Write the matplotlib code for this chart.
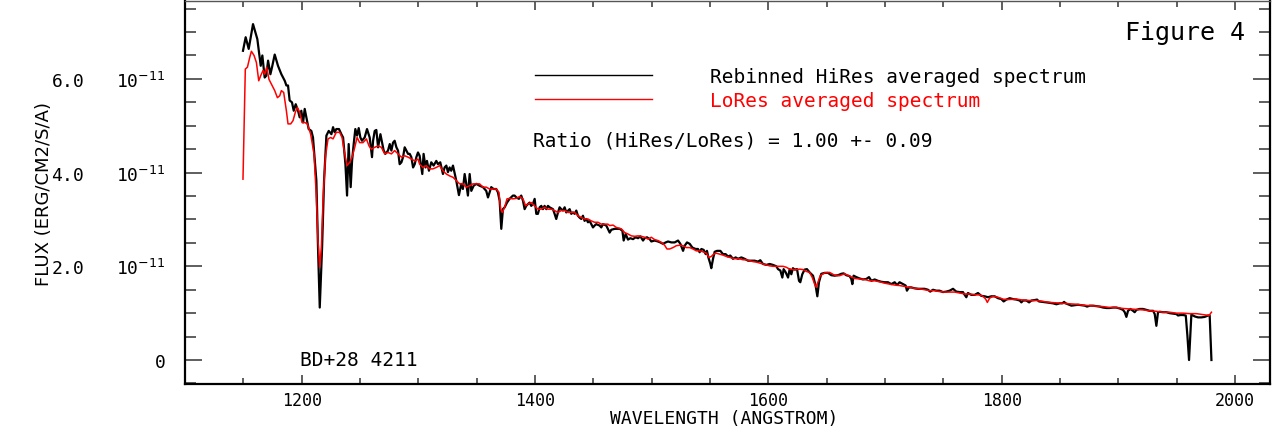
import numpy as np
import matplotlib
matplotlib.use("Agg")
import matplotlib.pyplot as plt
from matplotlib.ticker import MultipleLocator

# Rebinned HiRes averaged spectrum (wavelength in Angstrom, flux in 1e-11 erg/cm2/s/A)
hires_wave = [
    1149.7, 1152.0, 1154.6, 1158.3, 1162.0, 1164.9, 1166.3, 1168.3, 1169.7, 1171.2,
    1173.2, 1174.6, 1176.9, 1179.7, 1182.6, 1185.5, 1186.9, 1188.3, 1189.7, 1191.7,
    1193.2, 1194.9, 1196.9, 1198.3, 1199.7, 1201.2, 1202.6, 1204.6, 1206.0, 1208.3,
    1209.7, 1212.6, 1214.0, 1215.5, 1217.5, 1219.2, 1221.2, 1223.2, 1225.5, 1226.9,
    1228.3, 1229.7, 1232.0, 1234.0, 1235.5, 1237.5, 1238.9, 1240.3, 1242.0, 1243.2,
    1244.6, 1246.0, 1247.5, 1248.9, 1250.3, 1251.7, 1254.0, 1256.0, 1258.3, 1260.3,
    1261.2, 1262.6, 1264.0, 1265.5, 1267.5, 1268.9, 1270.3, 1271.7, 1274.0, 1275.5,
    1276.9, 1278.3, 1279.7, 1281.2, 1282.6, 1284.0, 1285.5, 1286.9, 1288.3, 1289.7,
    1291.2, 1292.6, 1294.0, 1295.5, 1296.9, 1298.3, 1299.7, 1301.1, 1303.4, 1304.5,
    1306.2, 1307.4, 1309.1, 1311.1, 1313.1, 1315.4, 1316.8, 1318.8, 1321.1, 1322.5,
    1324.0, 1325.4, 1326.8, 1328.2, 1329.7, 1332.5, 1334.8, 1336.8, 1338.2, 1339.7,
    1341.1, 1342.5, 1344.0, 1345.4, 1347.4, 1349.7, 1352.5, 1355.4, 1358.2, 1359.7,
    1361.1, 1362.5, 1364.5, 1366.8, 1368.2, 1369.7, 1371.1, 1372.5, 1374.0, 1376.0,
    1378.2, 1381.1, 1382.5, 1384.0, 1386.2, 1388.2, 1389.7, 1391.1, 1392.5, 1394.0,
    1395.4, 1396.8, 1398.2, 1399.7, 1401.1, 1402.5, 1404.0, 1405.4, 1406.8, 1408.2,
    1409.7, 1411.1, 1412.5, 1415.4, 1416.8, 1418.2, 1419.7, 1421.1, 1422.5, 1424.0,
    1425.4, 1426.8, 1429.7, 1431.1, 1432.5, 1434.0, 1435.4, 1436.8, 1438.2, 1439.7,
    1441.1, 1442.5, 1444.0, 1445.4, 1446.8, 1448.2, 1449.7, 1451.1, 1452.5, 1455.4,
    1456.8, 1458.2, 1461.1, 1462.5, 1464.0, 1465.4, 1468.3, 1472.6, 1474.9, 1476.0,
    1477.7, 1479.7, 1481.7, 1484.0, 1486.3, 1488.3, 1490.3, 1492.6, 1494.0, 1496.0,
    1498.3, 1499.7, 1502.6, 1505.4, 1507.4, 1509.7, 1512.0, 1514.0, 1516.9, 1519.7,
    1522.6, 1524.6, 1526.9, 1528.3, 1530.3, 1532.6, 1534.9, 1537.7, 1539.7, 1541.1,
    1542.6, 1544.6, 1546.3, 1547.4, 1548.6, 1550.3, 1551.1, 1552.6, 1554.0, 1556.0,
    1558.9, 1561.1, 1563.4, 1565.4, 1567.4, 1569.7, 1572.0, 1574.0, 1576.9, 1579.7,
    1582.6, 1585.4, 1588.3, 1591.1, 1593.1, 1595.4, 1598.3, 1601.1, 1604.0, 1606.9,
    1608.3, 1610.3, 1612.0, 1613.1, 1614.9, 1616.9, 1618.3, 1619.7, 1621.1, 1622.6,
    1624.6, 1626.3, 1627.4, 1629.1, 1631.1, 1633.1, 1635.4, 1638.3, 1640.5, 1642.0,
    1643.4, 1645.4, 1648.3, 1651.1, 1654.0, 1656.8, 1659.7, 1662.5, 1664.5, 1666.8,
    1669.7, 1671.1, 1672.0, 1673.1, 1675.4, 1678.3, 1681.1, 1684.0, 1686.3, 1688.3,
    1691.1, 1694.0, 1696.8, 1699.7, 1702.6, 1705.4, 1708.3, 1710.3, 1712.5, 1715.4,
    1717.7, 1718.8, 1720.5, 1722.5, 1725.4, 1728.3, 1731.1, 1734.0, 1736.8, 1738.8,
    1741.1, 1744.0, 1746.8, 1749.7, 1752.5, 1755.4, 1758.3, 1761.1, 1764.0, 1766.8,
    1768.3, 1769.7, 1771.1, 1774.0, 1776.8, 1779.7, 1782.5, 1785.4, 1788.3, 1791.1,
    1794.0, 1796.8, 1799.7, 1801.7, 1804.0, 1806.9, 1809.8, 1812.6, 1815.5, 1816.9,
    1818.3, 1821.2, 1823.5, 1825.5, 1828.3, 1830.3, 1832.0, 1835.5, 1838.3, 1841.2,
    1844.0, 1846.9, 1849.8, 1852.0, 1853.5, 1854.9, 1856.9, 1859.8, 1862.6, 1865.5,
    1868.3, 1871.2, 1873.2, 1875.5, 1878.3, 1881.2, 1884.0, 1886.9, 1889.8, 1892.6,
    1895.5, 1898.3, 1901.2, 1904.0, 1905.5, 1906.9, 1908.3, 1910.3, 1912.6, 1914.0,
    1915.5, 1918.3, 1921.2, 1924.0, 1926.9, 1929.8, 1931.2, 1932.6, 1934.0, 1935.5,
    1938.3, 1941.2, 1944.0, 1946.9, 1949.8, 1951.2, 1953.2, 1955.5, 1957.8, 1959.2,
    1960.6, 1962.6, 1965.5, 1968.3, 1971.2, 1974.0, 1976.9, 1978.3, 1979.8,
]
hires_flux = [
    6.60, 6.89, 6.64, 7.17, 6.85, 6.28, 6.50, 6.03, 6.07, 6.39,
    6.10, 6.25, 6.52, 6.28, 6.10, 5.96, 5.86, 5.86, 5.54, 5.50,
    5.32, 5.46, 5.32, 5.18, 5.32, 5.07, 5.36, 5.11, 4.93, 4.89,
    4.75, 3.83, 2.40, 1.12, 2.40, 3.83, 4.79, 4.89, 4.82, 4.97,
    4.86, 4.93, 4.93, 4.82, 4.75, 4.18, 3.51, 4.61, 3.69, 4.25,
    4.61, 4.93, 4.79, 4.95, 4.75, 4.68, 4.75, 4.93, 4.75, 4.33,
    4.68, 4.89, 4.91, 4.54, 4.82, 4.64, 4.47, 4.40, 4.47, 4.61,
    4.47, 4.64, 4.68, 4.54, 4.47, 4.18, 4.22, 4.33, 4.54, 4.47,
    4.40, 4.40, 4.33, 4.11, 4.18, 4.33, 4.43, 4.36, 3.97, 4.40,
    4.11, 4.25, 4.04, 4.22, 4.15, 4.25, 4.18, 4.22, 3.97, 4.11,
    4.15, 4.01, 4.11, 4.04, 4.15, 3.83, 3.52, 3.76, 3.65, 3.97,
    3.76, 3.51, 3.97, 3.61, 3.72, 3.76, 3.72, 3.69, 3.61, 3.47,
    3.58, 3.69, 3.65, 3.65, 3.58, 3.40, 2.80, 3.22, 3.26, 3.36,
    3.44, 3.51, 3.51, 3.47, 3.44, 3.51, 3.40, 3.22, 3.29, 3.33,
    3.36, 3.29, 3.33, 3.44, 3.12, 3.12, 3.26, 3.29, 3.22, 3.29,
    3.22, 3.29, 3.26, 3.22, 3.12, 3.01, 3.15, 3.26, 3.22, 3.19,
    3.26, 3.15, 3.22, 3.12, 3.15, 3.12, 3.19, 3.08, 3.04, 3.01,
    3.08, 2.97, 3.01, 2.94, 2.97, 2.90, 2.83, 2.87, 2.90, 2.87,
    2.83, 2.90, 2.87, 2.80, 2.72, 2.78, 2.80, 2.80, 2.76, 2.55,
    2.69, 2.57, 2.60, 2.58, 2.62, 2.60, 2.64, 2.55, 2.60, 2.62,
    2.58, 2.53, 2.55, 2.53, 2.51, 2.48, 2.51, 2.53, 2.51, 2.51,
    2.55, 2.48, 2.33, 2.44, 2.51, 2.48, 2.40, 2.37, 2.37, 2.30,
    2.37, 2.35, 2.26, 2.33, 2.19, 2.05, 1.96, 2.16, 2.31, 2.33,
    2.33, 2.26, 2.26, 2.21, 2.23, 2.16, 2.19, 2.16, 2.19, 2.16,
    2.12, 2.12, 2.12, 2.10, 2.13, 2.05, 2.03, 2.05, 2.03, 2.00,
    1.94, 1.91, 1.76, 1.94, 1.87, 1.76, 1.94, 1.83, 1.96, 1.93,
    1.94, 1.69, 1.66, 1.83, 1.93, 1.94, 1.87, 1.80, 1.59, 1.36,
    1.66, 1.84, 1.86, 1.86, 1.81, 1.80, 1.81, 1.84, 1.85, 1.81,
    1.79, 1.73, 1.62, 1.80, 1.77, 1.74, 1.72, 1.73, 1.77, 1.69,
    1.72, 1.69, 1.67, 1.66, 1.66, 1.62, 1.66, 1.60, 1.66, 1.62,
    1.59, 1.48, 1.55, 1.55, 1.53, 1.52, 1.52, 1.52, 1.50, 1.46,
    1.50, 1.48, 1.48, 1.45, 1.46, 1.48, 1.52, 1.46, 1.45, 1.45,
    1.39, 1.34, 1.43, 1.39, 1.39, 1.43, 1.37, 1.36, 1.34, 1.36,
    1.36, 1.32, 1.30, 1.25, 1.29, 1.32, 1.30, 1.29, 1.27, 1.23,
    1.27, 1.27, 1.23, 1.27, 1.28, 1.29, 1.25, 1.24, 1.23, 1.22,
    1.21, 1.19, 1.21, 1.21, 1.24, 1.21, 1.19, 1.16, 1.17, 1.18,
    1.17, 1.16, 1.14, 1.16, 1.16, 1.15, 1.14, 1.12, 1.11, 1.11,
    1.12, 1.12, 1.10, 1.07, 1.02, 0.92, 1.05, 1.09, 1.05, 1.02,
    1.07, 1.09, 1.09, 1.07, 1.05, 1.05, 0.98, 0.73, 1.02, 1.03,
    1.02, 1.02, 1.00, 0.99, 0.98, 0.95, 0.96, 0.96, 0.95, 0.52,
    0.00, 0.97, 0.93, 0.91, 0.91, 0.92, 0.95, 0.95, 0.00,
]

# LoRes averaged spectrum
lores_wave = [
    1149.7, 1151.7, 1153.5, 1155.5, 1156.9, 1159.2, 1161.2, 1163.2, 1164.9, 1166.9,
    1168.3, 1170.0, 1172.0, 1174.0, 1176.9, 1179.2, 1181.2, 1182.6, 1184.6, 1186.9,
    1188.3, 1190.6, 1192.6, 1194.6, 1196.3, 1198.3, 1200.3, 1202.6, 1204.9, 1207.7,
    1210.6, 1212.6, 1214.0, 1215.5, 1216.9, 1218.3, 1220.3, 1222.6, 1224.9, 1226.9,
    1229.7, 1232.6, 1234.6, 1236.9, 1238.9, 1241.2, 1243.2, 1245.5, 1247.5, 1249.7,
    1252.6, 1255.5, 1257.7, 1259.7, 1262.6, 1265.5, 1268.3, 1271.2, 1274.0, 1276.9,
    1279.7, 1282.6, 1285.5, 1288.3, 1291.2, 1294.0, 1296.9, 1299.7, 1301.1, 1304.0,
    1306.8, 1309.7, 1312.5, 1315.4, 1318.2, 1321.1, 1324.0, 1326.8, 1329.7, 1332.5,
    1335.4, 1338.2, 1341.1, 1344.0, 1346.8, 1349.7, 1352.5, 1355.4, 1358.2, 1361.1,
    1364.0, 1366.8, 1369.1, 1370.5, 1372.0, 1374.0, 1376.0, 1378.2, 1381.1, 1384.0,
    1386.8, 1389.7, 1392.0, 1394.0, 1396.8, 1399.7, 1402.5, 1405.4, 1408.2, 1411.1,
    1414.0, 1416.8, 1419.7, 1422.5, 1425.4, 1428.2, 1431.1, 1434.0, 1436.8, 1439.7,
    1442.5, 1445.4, 1448.2, 1451.1, 1454.0, 1456.8, 1459.7, 1462.5, 1464.0, 1466.9,
    1469.7, 1474.0, 1476.9, 1479.7, 1482.6, 1485.4, 1488.3, 1491.1, 1494.0, 1496.9,
    1499.7, 1502.6, 1505.4, 1508.3, 1511.1, 1513.1, 1515.4, 1518.3, 1521.1, 1524.0,
    1526.9, 1529.7, 1532.6, 1535.4, 1538.3, 1541.1, 1544.0, 1546.9, 1549.1, 1551.1,
    1553.1, 1555.4, 1558.3, 1561.1, 1564.0, 1566.9, 1569.7, 1572.6, 1575.4, 1578.3,
    1581.1, 1584.0, 1586.9, 1589.7, 1592.6, 1595.4, 1598.3, 1601.1, 1604.0, 1606.9,
    1609.7, 1612.6, 1615.4, 1618.3, 1621.1, 1624.0, 1626.9, 1629.7, 1632.6, 1635.4,
    1637.7, 1639.7, 1641.1, 1642.5, 1644.5, 1648.3, 1652.5, 1656.8, 1661.1, 1665.4,
    1669.7, 1674.0, 1678.3, 1682.5, 1686.8, 1691.1, 1695.4, 1699.7, 1704.0, 1708.3,
    1712.5, 1716.8, 1721.1, 1725.4, 1729.7, 1734.0, 1738.3, 1742.5, 1746.8, 1751.1,
    1755.4, 1759.7, 1764.0, 1768.3, 1772.5, 1776.8, 1781.1, 1784.0, 1786.3, 1787.7,
    1789.7, 1792.5, 1796.8, 1801.1, 1805.4, 1812.6, 1818.3, 1824.0, 1829.8, 1835.5,
    1841.2, 1846.9, 1852.6, 1858.3, 1864.0, 1869.8, 1875.5, 1881.2, 1886.9, 1892.6,
    1898.3, 1904.0, 1909.7, 1915.5, 1921.2, 1926.9, 1932.6, 1938.3, 1944.0, 1949.8,
    1955.5, 1961.2, 1966.9, 1972.6, 1977.8, 1979.8,
]
lores_flux = [
    3.86, 6.21, 6.25, 6.46, 6.59, 6.50, 6.35, 5.96, 6.07, 6.18,
    6.10, 6.25, 5.99, 5.89, 5.75, 5.60, 5.64, 5.75, 5.71, 5.32,
    5.04, 5.04, 5.11, 5.29, 5.39, 5.29, 5.07, 5.07, 5.04, 4.82,
    4.40, 3.47, 2.55, 1.98, 2.40, 3.40, 4.33, 4.72, 4.75, 4.72,
    4.86, 4.86, 4.75, 4.40, 4.15, 4.22, 4.33, 4.54, 4.75, 4.64,
    4.64, 4.72, 4.57, 4.50, 4.54, 4.57, 4.54, 4.40, 4.43, 4.40,
    4.47, 4.40, 4.33, 4.36, 4.33, 4.29, 4.25, 4.29, 4.18, 4.11,
    4.15, 4.08, 4.08, 4.11, 4.15, 4.04, 3.97, 3.93, 3.90, 3.83,
    3.76, 3.76, 3.69, 3.72, 3.76, 3.76, 3.76, 3.69, 3.69, 3.65,
    3.65, 3.65, 3.58, 3.22, 3.15, 3.26, 3.44, 3.45, 3.44, 3.45,
    3.49, 3.44, 3.29, 3.33, 3.36, 3.29, 3.22, 3.22, 3.26, 3.22,
    3.22, 3.19, 3.15, 3.19, 3.19, 3.15, 3.15, 3.15, 3.08, 3.04,
    3.01, 3.01, 2.97, 2.94, 2.94, 2.90, 2.90, 2.90, 2.87, 2.88,
    2.83, 2.80, 2.72, 2.69, 2.65, 2.64, 2.65, 2.64, 2.62, 2.58,
    2.62, 2.57, 2.55, 2.51, 2.45, 2.37, 2.37, 2.40, 2.44, 2.45,
    2.44, 2.40, 2.40, 2.37, 2.33, 2.33, 2.31, 2.28, 2.19, 2.21,
    2.26, 2.28, 2.26, 2.24, 2.21, 2.19, 2.17, 2.16, 2.16, 2.14,
    2.14, 2.12, 2.10, 2.09, 2.07, 2.05, 2.03, 2.01, 2.00, 2.00,
    2.00, 2.00, 1.98, 1.94, 1.93, 1.93, 1.94, 1.93, 1.89, 1.87,
    1.76, 1.62, 1.55, 1.66, 1.80, 1.86, 1.87, 1.81, 1.80, 1.84,
    1.79, 1.74, 1.73, 1.72, 1.69, 1.69, 1.67, 1.64, 1.62, 1.60,
    1.59, 1.57, 1.55, 1.53, 1.52, 1.50, 1.48, 1.48, 1.46, 1.45,
    1.45, 1.45, 1.43, 1.41, 1.41, 1.39, 1.39, 1.36, 1.30, 1.23,
    1.32, 1.36, 1.34, 1.30, 1.29, 1.30, 1.28, 1.27, 1.27, 1.25,
    1.23, 1.22, 1.21, 1.20, 1.19, 1.17, 1.16, 1.15, 1.14, 1.12,
    1.12, 1.10, 1.09, 1.08, 1.07, 1.05, 1.04, 1.02, 1.02, 1.00,
    1.00, 0.99, 0.99, 0.97, 0.95, 1.02,
]

x_ticks = [1200, 1400, 1600, 1800, 2000]
y_ticks = [0, 2.0, 4.0, 6.0]
y_tick_labels = ["0", "2.0   10$^{-11}$", "4.0   10$^{-11}$", "6.0   10$^{-11}$"]

mono = "DejaVu Sans Mono"
plt.rcParams["mathtext.fontset"] = "dejavusans"

fig = plt.figure(figsize=(12.83, 4.31), dpi=100)
ax = fig.add_axes([185 / 1283, 1 - 385 / 431, 1085 / 1283, 383 / 431])

scale = 1e-11
ax.plot(hires_wave, np.array(hires_flux) * scale, color="black", lw=1.6,
        label="Rebinned HiRes averaged spectrum")
ax.plot(lores_wave, np.array(lores_flux) * scale, color="red", lw=1.1,
        label="LoRes averaged spectrum")

ax.set_xlim(1100, 2030)
ax.set_ylim(-0.512 * scale, 7.663 * scale)

ax.set_xticks(x_ticks)
ax.set_xticklabels([str(t) for t in x_ticks], fontfamily=mono, fontsize=12)
ax.xaxis.set_minor_locator(MultipleLocator(50))
ax.set_yticks([v * scale for v in y_ticks])
ax.set_yticklabels(y_tick_labels, fontfamily=mono, fontsize=13)
ax.yaxis.set_minor_locator(MultipleLocator(0.5 * scale))

ax.tick_params(axis="both", which="both", direction="in", top=True, right=True,
               width=1.1, color="#333333")
ax.tick_params(axis="x", which="major", length=6.5, pad=5)
ax.tick_params(axis="x", which="minor", length=4.3)
ax.tick_params(axis="y", which="major", length=12, pad=14)
ax.tick_params(axis="y", which="minor", length=8)

for side in ["left", "bottom", "right"]:
    ax.spines[side].set_linewidth(1.6)
ax.spines["top"].set_linewidth(1.0)
ax.spines["top"].set_color("#555555")

ax.set_xlabel("WAVELENGTH (ANGSTROM)", fontfamily=mono, fontsize=13, va="center")
ax.xaxis.set_label_coords(0.497, -0.088)
ax.set_ylabel("FLUX (ERG/CM2/S/A)", family=["Liberation Sans Narrow", "DejaVu Sans"],
              fontsize=13, va="center")
ax.yaxis.set_label_coords(-0.130, 0.5)

leg = ax.legend(loc="upper left", bbox_to_anchor=((535 - 185) / 1085, (385 - 68) / 383),
                frameon=False, prop={"family": mono, "size": 14}, labelcolor="linecolor",
                handlelength=6.0, handletextpad=3.0, labelspacing=0.25,
                borderpad=0, borderaxespad=0)
for line in leg.get_lines():
    line.set_linewidth(1.0)

ax.text((1245 - 185) / 1085, (385 - 33) / 383, "Figure 4", transform=ax.transAxes,
        ha="right", va="center", fontfamily=mono, fontsize=18)
ax.text((533 - 185) / 1085, (385 - 141) / 383, "Ratio (HiRes/LoRes) = 1.00 +- 0.09",
        transform=ax.transAxes, ha="left", va="center", fontfamily=mono, fontsize=14)
ax.text((300 - 185) / 1085, (385 - 361) / 383, "BD+28 4211", transform=ax.transAxes,
        ha="left", va="center", fontfamily=mono, fontsize=14)

fig.savefig("out.png", dpi=100)
